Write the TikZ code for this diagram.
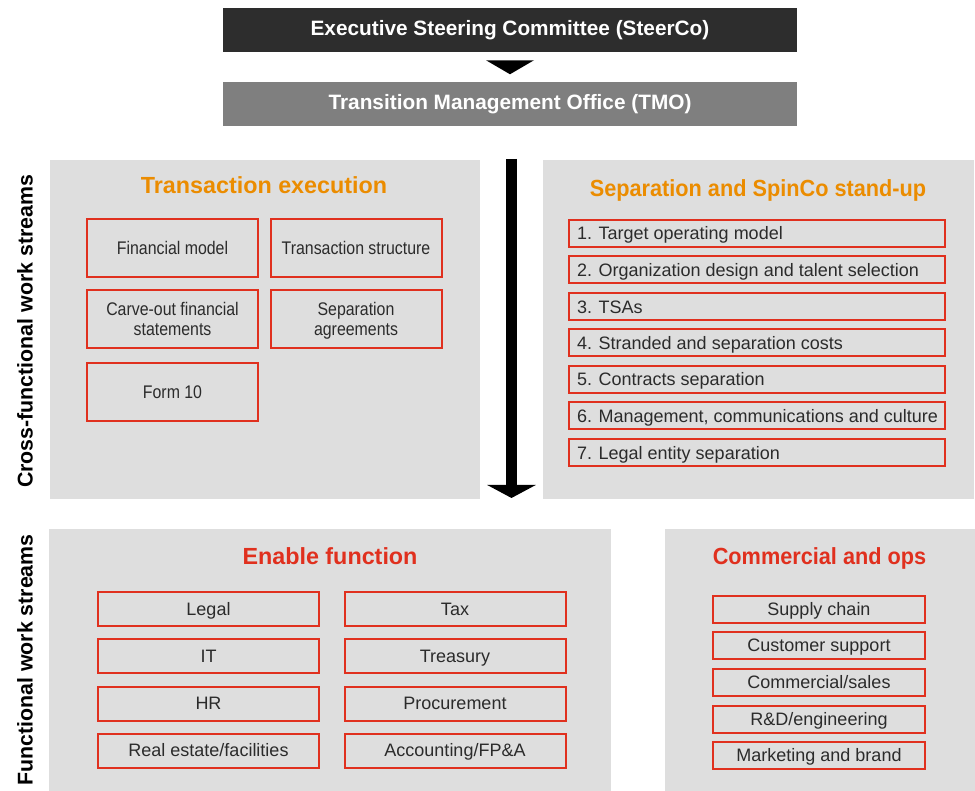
\documentclass[tikz,border=0pt]{standalone}
\usepackage{fontspec}
\setmainfont{Liberation Sans}
\newfontfamily\condensedsans{Liberation Sans}[FakeStretch=0.87]
\newfontfamily\tightsans{Liberation Sans}[FakeStretch=0.93]
\usetikzlibrary{arrows.meta}

% one drawing unit
\newlength\pxu
\setlength\pxu{0.75pt}

\definecolor{panelgray}{HTML}{DEDEDE}
\definecolor{boxred}{HTML}{E0301E}
\definecolor{titleorange}{HTML}{EB8C00}
\definecolor{bodytext}{HTML}{2B2B2B}
\definecolor{steerbar}{HTML}{2D2D2D}
\definecolor{tmobar}{HTML}{7F7F7F}

\tikzset{
  panel/.style={fill=panelgray, draw=none, inner sep=0, anchor=north west},
  bar/.style={inner sep=0, minimum width=574\pxu, minimum height=44\pxu,
    text=white, font=\bfseries\fontsize{15.6}{18}\selectfont},
  sidelabel/.style={rotate=90, inner sep=0, text=black,
    font=\bfseries\fontsize{16}{19}\selectfont},
  paneltitle/.style={anchor=base, inner sep=0,
    font=\bfseries\fontsize{17.5}{20}\selectfont},
  tighttitle/.style={paneltitle, font=\tightsans\bfseries\fontsize{17.5}{20}\selectfont},
  itembox/.style={draw=boxred, line width=1.5pt, inner sep=0, text=bodytext,
    text height=9.6pt, text depth=0pt, align=center,
    font=\fontsize{13.5}{15}\selectfont},
  dealbox/.style={itembox, minimum width=171\pxu, minimum height=58\pxu,
    font=\condensedsans\fontsize{13.7}{15}\selectfont},
  twoline/.style={text height=24.6pt},
  stepbox/.style={itembox, minimum width=376\pxu, minimum height=27\pxu, inner xsep=8\pxu},
  funcbox/.style={itembox, minimum width=221\pxu, minimum height=34\pxu},
  opsbox/.style={itembox, minimum width=212\pxu, minimum height=27\pxu},
  flow/.style={line width=8.25pt, -{Triangle[width=36pt,length=9.75pt]}},
}

\newcommand\steptext[1]{\makebox[360\pxu][l]{#1}}

\begin{document}
\begin{tikzpicture}[x=0.75pt, y=-0.75pt]
  \useasboundingbox (0,0) rectangle (975,791);

  % governance bars
  \node[bar, fill=steerbar] (steerco) at (510,30) {Executive Steering Committee (SteerCo)};
  \node[bar, fill=tmobar] (tmo) at (510,104) {Transition Management Office (TMO)};
  \fill[black] (steerco.south) ++(-24,8) -- ++(48,0) -- ++(-24,14) -- cycle;

  % background panels
  \node[panel, minimum width=430\pxu, minimum height=339\pxu] (txpanel) at (50,160) {};
  \node[panel, minimum width=431\pxu, minimum height=339\pxu] (seppanel) at (543,160) {};
  \node[panel, minimum width=562\pxu, minimum height=262\pxu] (enpanel) at (49,529) {};
  \node[panel, minimum width=310\pxu, minimum height=262\pxu] (opspanel) at (665,529) {};

  % row labels
  \node[sidelabel] (crosslabel) at (25,331.5) {Cross-functional work streams};
  \node[sidelabel] (funclabel) at (25,660) {Functional work streams};

  % main downward flow
  \coordinate (flowtop) at (511.5,159);
  \coordinate (flowbot) at (511.5,498);
  \draw[flow] (flowtop) -- (flowbot);

  % transaction execution
  \node[paneltitle, text=titleorange] (txtitle) at (264,194) {Transaction execution};
  \node[dealbox] (finmodel) at (172.5,248) {Financial model};
  \node[dealbox] (txstruct) at (356,248) {Transaction structure};
  \node[dealbox, twoline] (carveout) at (172.5,319.5) {Carve-out financial\\statements};
  \node[dealbox, twoline] (sepagree) at (356,319.5) {Separation\\agreements};
  \node[dealbox] (form10) at (172.5,392.5) {Form 10};

  % separation and SpinCo stand-up
  \node[tighttitle, text=titleorange] (septitle) at (758,197) {Separation and SpinCo stand-up};
  \node[stepbox] (s1) at (757,233.5) {\steptext{1. Target operating model}};
  \node[stepbox] (s2) at (757,270) {\steptext{2. Organization design and talent selection}};
  \node[stepbox] (s3) at (757,307) {\steptext{3. TSAs}};
  \node[stepbox] (s4) at (757,343) {\steptext{4. Stranded and separation costs}};
  \node[stepbox] (s5) at (757,379.5) {\steptext{5. Contracts separation}};
  \node[stepbox] (s6) at (757,416) {\steptext{6. Management, communications and culture}};
  \node[stepbox] (s7) at (757,453) {\steptext{7. Legal entity separation}};

  % enable function
  \node[paneltitle, text=boxred] (entitle) at (330,564) {Enable function};
  \node[funcbox] (legal) at (208.5,609) {Legal};
  \node[funcbox] (it) at (208.5,656) {IT};
  \node[funcbox] (hr) at (208.5,703.5) {HR};
  \node[funcbox] (realestate) at (208.5,750.5) {Real estate/facilities};
  \node[funcbox] (tax) at (455,609) {Tax};
  \node[funcbox] (treasury) at (455,656) {Treasury};
  \node[funcbox] (procure) at (455,703.5) {Procurement};
  \node[funcbox] (accounting) at (455,750.5) {Accounting/FP\&A};

  % commercial and ops
  \node[tighttitle, text=boxred] (opstitle) at (819.5,564) {Commercial and ops};
  \node[opsbox] (supply) at (819,609.5) {Supply chain};
  \node[opsbox] (custsupport) at (819,645.5) {Customer support};
  \node[opsbox] (sales) at (819,682.5) {Commercial/sales};
  \node[opsbox] (rnd) at (819,719) {R\&D/engineering};
  \node[opsbox] (marketing) at (819,755.5) {Marketing and brand};
\end{tikzpicture}
\end{document}
